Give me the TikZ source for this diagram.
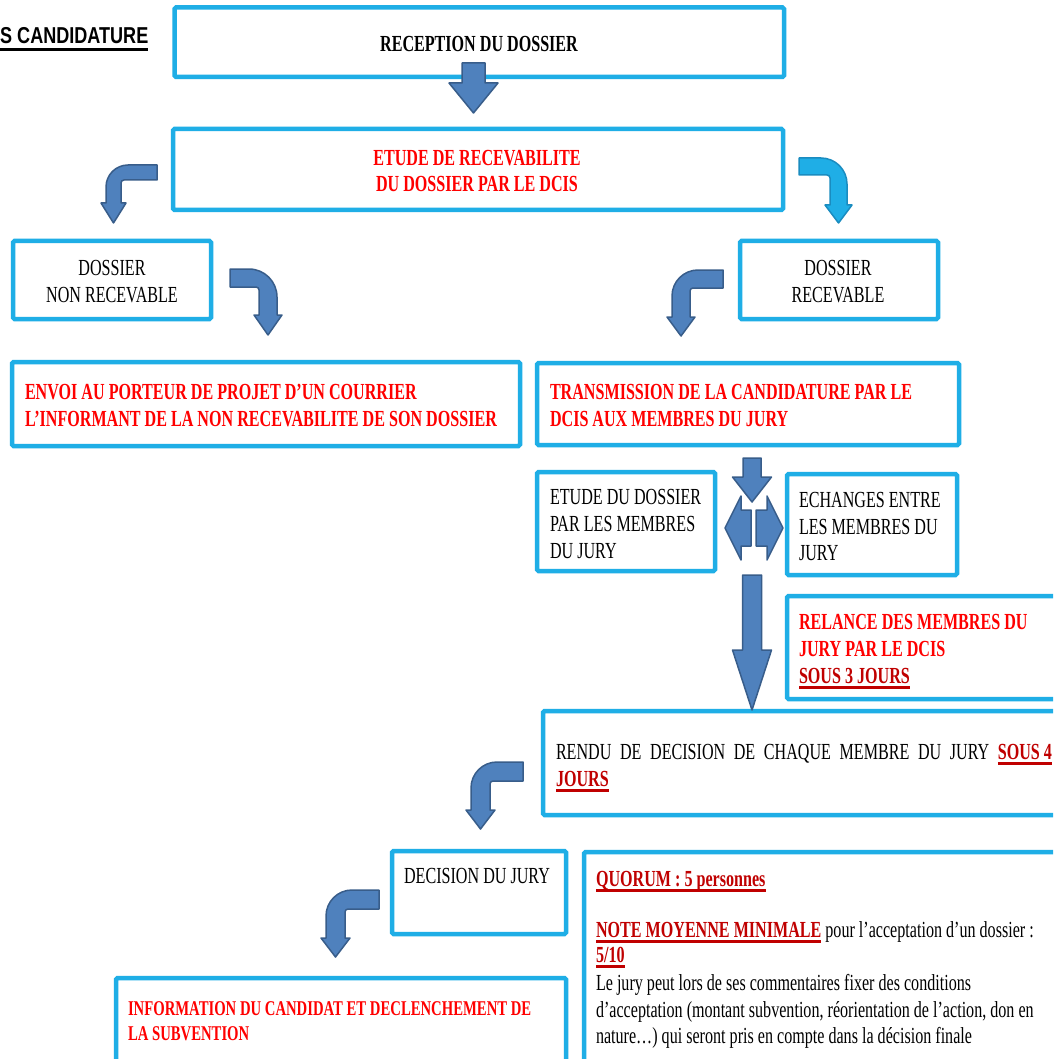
\documentclass[tikz,border=0pt]{standalone}
\usepackage{fontspec}
\setmainfont{Liberation Serif}[FakeStretch=0.7]
\newfontfamily\titlefont{Liberation Sans}[FakeStretch=0.785]
\definecolor{bxblue}{HTML}{1FAEE6}
\definecolor{arfill}{HTML}{4F81BD}
\definecolor{arline}{HTML}{385D8A}
\definecolor{lbfill}{HTML}{1FAEE6}
\definecolor{lbline}{HTML}{1A8CC0}
\definecolor{rd}{HTML}{FF0000}
\definecolor{dkred}{HTML}{C00000}
\newcommand\myul[1]{\setbox0\hbox{#1}\rlap{\rule[-5pt]{\wd0}{2.6pt}}\box0}
\newcommand\myulT[1]{\setbox0\hbox{#1}\rlap{\rule[-7pt]{\wd0}{3pt}}\box0}
\tikzset{
  bx/.style={draw=bxblue, line width=4.5pt, rounded corners=1.5pt, inner sep=0pt, outer sep=0pt},
  txt/.style={inner sep=0pt, outer sep=0pt, font=\fontsize{23pt}{27pt}\selectfont},
  smalltxt/.style={inner sep=0pt, outer sep=0pt, font=\fontsize{21pt}{25pt}\selectfont},
  barrow/.style={fill=arfill, draw=arline, line width=1.5pt, line join=round},
}
% box: name, x1, y1, x2, y2
\newcommand\bx[5]{\node[bx, minimum width={#4-#2}, minimum height={#5-#3}] (#1) at ({(#2+#4)/2},{(#3+#5)/2}) {};}
% bent arrow: s, xe, yt, t, xo, R, yh, lip, ytip
\newcommand\bent[9]{%
\filldraw[barrow] (#2,#3) -- ({#5+(#1)*#6},#3) .. controls ({#5+(#1)*0.448*#6},#3) and (#5,{#3+0.448*#6}) .. (#5,{#3+#6})
 -- (#5,#7) -- ({#5-(#1)*#8},#7) -- ({#5+(#1)*#4/2},#9) -- ({#5+(#1)*(#4+#8)},#7) -- ({#5+(#1)*#4},#7)
 -- ({#5+(#1)*#4},{#3+#4+3}) .. controls ({#5+(#1)*#4},{#3+#4+1.3}) and ({#5+(#1)*(#4+1.3)},{#3+#4}) .. ({#5+(#1)*(#4+3)},{#3+#4})
 -- (#2,{#3+#4}) -- cycle;}
% down arrow: xc, hw, ytop, yh, hhw, ytip
\newcommand\DArrow[6]{%
\filldraw[barrow] ({#1-#2},#3) -- ({#1+#2},#3) -- ({#1+#2},#4) -- ({#1+#5},#4) -- (#1,#6) -- ({#1-#5},#4) -- ({#1-#2},#4) -- cycle;}
\begin{document}
\begin{tikzpicture}[x=1pt,y=-1pt]
\useasboundingbox (0,0) rectangle (1053,1059);
\clip (0,0) rectangle (1053,1059);
\fill[white] (0,0) rectangle (1053,1059);
% boxes
\bx{reception}{174.5}{7.5}{784}{77}
\bx{recev}{173}{129}{783}{210}
\bx{nonrec}{13}{241}{211}{319}
\bx{rec}{740}{241}{938}{319}
\bx{envoi}{12}{362}{520}{446}
\bx{trans}{537}{363}{959}{445}
\bx{etude}{537}{472}{715}{571}
\bx{echanges}{787}{474}{957}{575}
\bx{relance}{787}{596}{1065}{699}
\bx{rendu}{543}{711}{1065}{815}
\bx{decision}{392}{851}{566}{934}
\bx{info}{116}{978}{566}{1075}
\bx{quorum}{584}{852}{1065}{1075}
% arrows
\DArrow{473.5}{11.5}{63}{83}{24.5}{113}
\bent{1}{157}{165}{15}{106}{22}{203}{5}{223}
\bent{-1}{230}{269}{18}{277}{28}{315}{5}{335}
\begin{scope}[barrow/.style={fill=lbfill, draw=lbline, line width=1.5pt, line join=round}]
\bent{-1}{799}{158}{17}{847}{26}{205}{5}{223}
\end{scope}
\bent{1}{723}{270}{18}{672}{26}{317}{5}{336}
\DArrow{752}{9}{458}{477}{19.5}{502}
\filldraw[barrow] (751,510) -- (741,510) -- (741,496) -- (725,528) -- (741,560) -- (741,546) -- (751,546) -- cycle;
\filldraw[barrow] (756,510) -- (767,510) -- (767,496) -- (783,528) -- (767,560) -- (767,546) -- (756,546) -- cycle;
\DArrow{752}{9.5}{575}{650}{19.5}{710}
\bent{1}{523}{762}{19}{471}{26}{810}{5}{829}
\bent{1}{379}{890}{19}{326}{26}{938}{5}{957}
% texts
\node[anchor=base west, inner sep=0pt, font=\fontsize{23pt}{27pt}\selectfont] (title) at (0,44) {\titlefont\bfseries\myulT{S CANDIDATURE}};
\node[txt,anchor=base] (t1) at (479,51.5) {\bfseries RECEPTION DU DOSSIER};
\node[txt,anchor=base,text=rd] (t2a) at (477,165.5) {\bfseries ETUDE DE RECEVABILITE};
\node[txt,anchor=base,text=rd] (t2b) at (477,191.5) {\bfseries DU DOSSIER PAR LE DCIS};
\node[txt,anchor=base] (t3a) at (112,275.5) {DOSSIER};
\node[txt,anchor=base] (t3b) at (112,302.5) {NON RECEVABLE};
\node[txt,anchor=base] (t4a) at (838,275.5) {DOSSIER};
\node[txt,anchor=base] (t4b) at (838,302.5) {RECEVABLE};
\node[txt,anchor=base west,text=rd] (t5a) at (25,399.5) {\bfseries ENVOI AU PORTEUR DE PROJET D’UN COURRIER};
\node[txt,anchor=base west,text=rd] (t5b) at (25,426.5) {\bfseries L’INFORMANT DE LA NON RECEVABILITE DE SON DOSSIER};
\node[txt,anchor=base west,text=rd] (t6a) at (550,399.5) {\bfseries TRANSMISSION DE LA CANDIDATURE PAR LE};
\node[txt,anchor=base west,text=rd] (t6b) at (550,426.5) {\bfseries DCIS AUX MEMBRES DU JURY};
\node[txt,anchor=base west] (t7a) at (550,504.5) {ETUDE DU DOSSIER};
\node[txt,anchor=base west] (t7b) at (550,531.5) {PAR LES MEMBRES};
\node[txt,anchor=base west] (t7c) at (550,558.5) {DU JURY};
\node[txt,anchor=base west] (t8a) at (799,507.5) {ECHANGES ENTRE};
\node[txt,anchor=base west] (t8b) at (799,534.5) {LES MEMBRES DU};
\node[txt,anchor=base west] (t8c) at (799,560.5) {JURY};
\node[txt,anchor=base west,text=rd] (t9a) at (799,629.5) {\bfseries RELANCE DES MEMBRES DU};
\node[txt,anchor=base west,text=rd] (t9b) at (799,656.5) {\bfseries JURY PAR LE DCIS};
\node[txt,anchor=base west,text=dkred] (t9c) at (799,683.5) {\bfseries\myul{SOUS 3 JOURS}};
\node[txt,anchor=base west] (t10a) at (556,759.5) {\hbox to 496pt{RENDU\hfill DE\hfill DECISION\hfill DE\hfill CHAQUE\hfill MEMBRE\hfill DU\hfill JURY\hfill \textcolor{dkred}{\bfseries\myul{SOUS 4}}}};
\node[txt,anchor=base west,text=dkred] (t10b) at (556,786.5) {\bfseries\myul{JOURS}};
\node[txt,anchor=base] (t11) at (477,883.5) {DECISION DU JURY};
\node[smalltxt,anchor=base west,text=rd] (t12a) at (128,1015) {\bfseries INFORMATION DU CANDIDAT ET DECLENCHEMENT DE};
\node[smalltxt,anchor=base west,text=rd] (t12b) at (128,1040) {\bfseries LA SUBVENTION};
\node[txt,anchor=base west,text=dkred] (t13a) at (596,886.5) {\bfseries\myul{QUORUM : 5 personnes}};
\node[txt,anchor=base west] (t13b) at (596,937.5) {\textcolor{dkred}{\bfseries\myul{NOTE MOYENNE MINIMALE}} pour l’acceptation d’un dossier :};
\node[txt,anchor=base west,text=dkred] (t13c) at (596,962.5) {\bfseries\myul{5/10}};
\node[txt,anchor=base west] (t13d) at (596,990) {Le jury peut lors de ses commentaires fixer des conditions};
\node[txt,anchor=base west] (t13e) at (596,1017) {d’acceptation (montant subvention, réorientation de l’action, don en};
\node[txt,anchor=base west] (t13f) at (596,1043) {nature…) qui seront pris en compte dans la décision finale};
\end{tikzpicture}
\end{document}
